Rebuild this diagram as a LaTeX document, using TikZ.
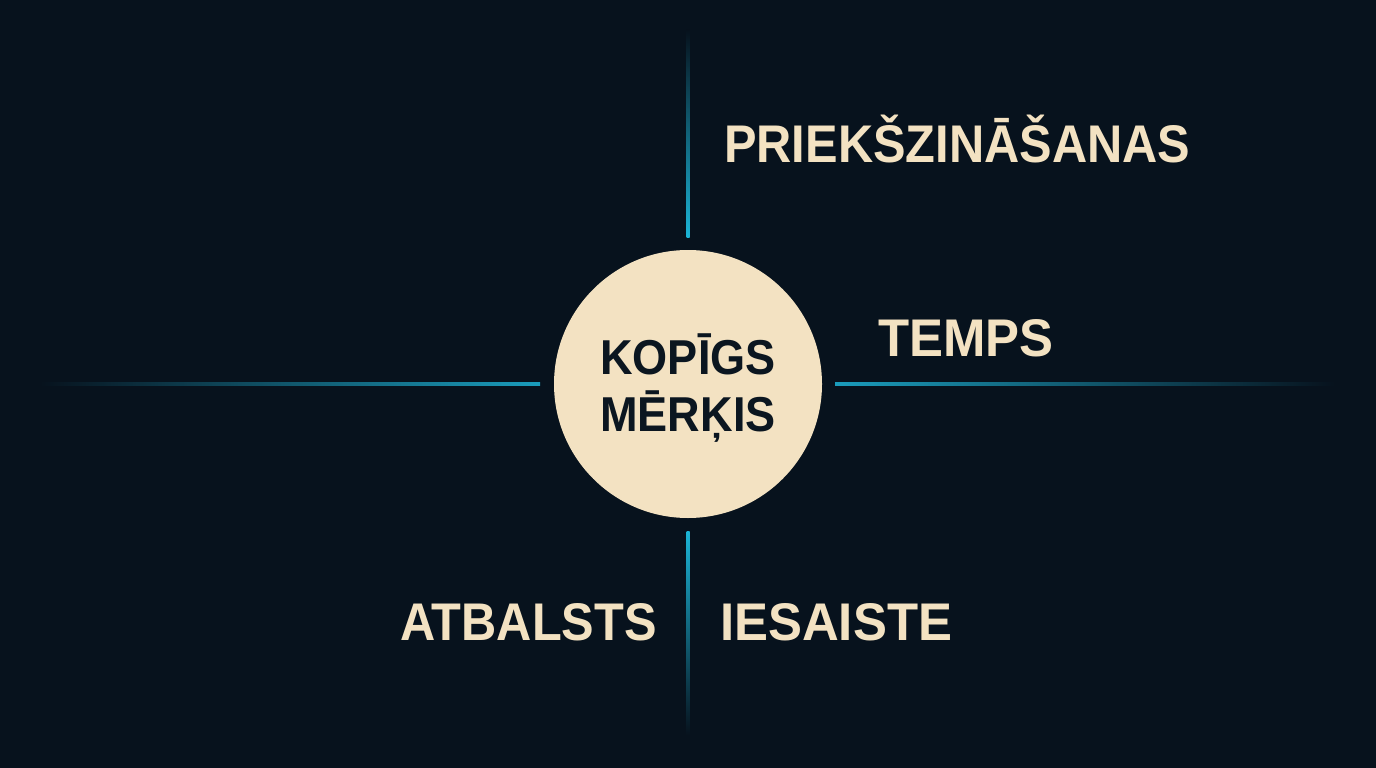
\documentclass[tikz,border=0pt]{standalone}
\usepackage{fontspec}
\setmainfont{Liberation Sans}
\newfontfamily\lblfont[FakeStretch=0.92]{Liberation Sans}
\newfontfamily\lblwide[FakeStretch=0.96]{Liberation Sans}
\definecolor{bg}{HTML}{07121D}
\definecolor{cream}{HTML}{F3E2C2}
\definecolor{cyanb}{HTML}{1BB4D6}
\definecolor{cyanh}{HTML}{1A9CBC}
\definecolor{ink}{HTML}{0B1620}
\tikzset{
  lbl/.style={inner sep=0pt, text=cream, font=\lblfont\bfseries\fontsize{53}{60}\selectfont},
  lblw/.style={lbl, font=\lblwide\bfseries\fontsize{53}{60}\selectfont},
  goaltext/.style={inner sep=0pt, text=ink, align=center, font=\lblfont\bfseries\fontsize{49}{57}\selectfont},
}
\begin{document}
\begin{tikzpicture}[x=1pt,y=-1pt]
\fill[bg] (0,0) rectangle (1376,768);
\useasboundingbox (0,0) rectangle (1376,768);
% connectors (glowing lines)
\coordinate (topA) at (686.5,30);
\coordinate (topB) at (689.5,237);
\coordinate (botA) at (686.5,531);
\coordinate (botB) at (689.5,735);
\coordinate (leftA) at (40,382.5);
\coordinate (leftB) at (540,385.5);
\coordinate (rightA) at (835,382.5);
\coordinate (rightB) at (1335,385.5);
\shade[top color=bg, bottom color=cyanb] (topA) rectangle (topB);
\shade[top color=cyanb, bottom color=bg] (botA) rectangle (botB);
\shade[left color=bg, right color=cyanh] (leftA) rectangle (leftB);
\shade[left color=cyanh, right color=bg] (rightA) rectangle (rightB);
% centre
\node[circle, fill=cream, minimum size=268pt, inner sep=0pt] (goal) at (688,384) {};
\node[goaltext] (goaltxt) at (688,388) {KOPĪGS\\MĒRĶIS};
% labels
\node[lbl, anchor=base west] (pre) at (724,162) {PRIEKŠZINĀŠANAS};
\node[lblw, anchor=base west] (temps) at (878,356) {TEMPS};
\node[lbl, anchor=base east] (atb) at (657,640) {ATBALSTS};
\node[lblw, anchor=base west] (ies) at (720,640) {IESAISTE};
\end{tikzpicture}
\end{document}
